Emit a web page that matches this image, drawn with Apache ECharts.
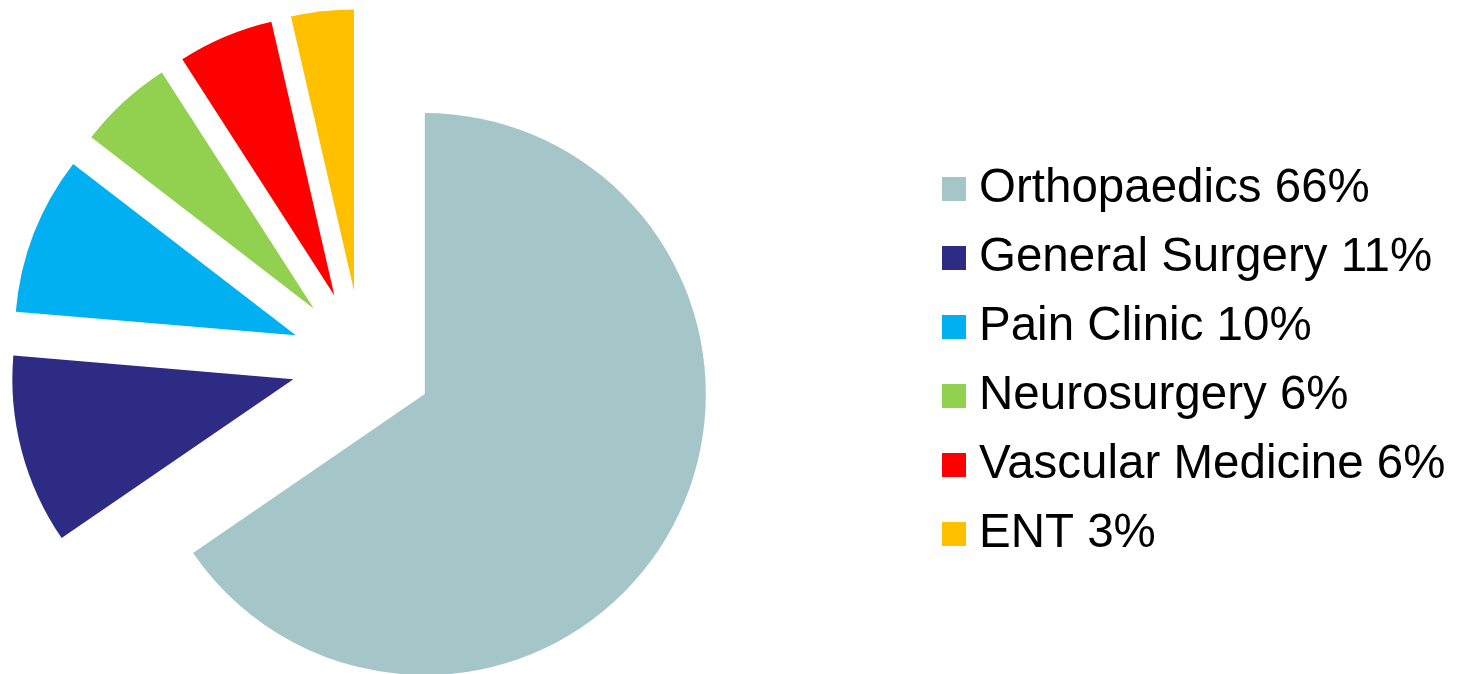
<!DOCTYPE html>
<html lang="en">

<head>
    <meta charset="UTF-8">
    <title>Specialty share</title>
    <script src="https://cdn.jsdelivr.net/npm/echarts@6/dist/echarts.min.js"></script>
    <style>
        html, body { margin: 0; padding: 0; background: #fff; }
    </style>
</head>

<body>
    <div id="container" style="width: 1459px;height: 674px"></div>

    <script>
        // categories and values (shares)
        var specialties = ['Orthopaedics', 'General Surgery', 'Pain Clinic', 'Neurosurgery', 'Vascular Medicine', 'ENT'];
        var shares = [65.4, 10.9, 9.1, 5.45, 5.5, 3.6];
        // percentages printed in the legend
        var shareLabels = ['66%', '11%', '10%', '6%', '6%', '3%'];
        var colors = ['#a5c6c9', '#2e2b85', '#00b0f0', '#92d050', '#ff0000', '#ffc000'];

        var myChart = echarts.init(document.getElementById('container'));

        var pieData = specialties.map(function (name, i) {
            return {
                name: name,
                value: shares[i],
                selected: true, // every slice pulled out
                itemStyle: { color: colors[i] }
            };
        });

        myChart.setOption({
            animation: false,
            backgroundColor: '#ffffff',
            legend: {
                orient: 'vertical',
                left: 942,
                top: 161,
                padding: 0,
                icon: 'rect',
                itemWidth: 24,
                itemHeight: 24,
                itemGap: 13,
                selectedMode: false,
                textStyle: {
                    fontFamily: 'Liberation Sans, Arial, sans-serif',
                    fontSize: 47.5,
                    lineHeight: 56,
                    color: '#000000',
                    padding: [0, 0, 0, 8]
                },
                formatter: function (name) {
                    return name + ' ' + shareLabels[specialties.indexOf(name)];
                },
                data: specialties
            },
            series: [{
                type: 'pie',
                center: [362, 361],
                radius: 281,
                startAngle: 90,
                clockwise: true,
                selectedMode: 'multiple',
                selectedOffset: 71,
                label: { show: false },
                labelLine: { show: false },
                emphasis: { scale: false },
                itemStyle: { borderWidth: 0 },
                data: pieData
            }]
        });
    </script>
</body>

</html>
